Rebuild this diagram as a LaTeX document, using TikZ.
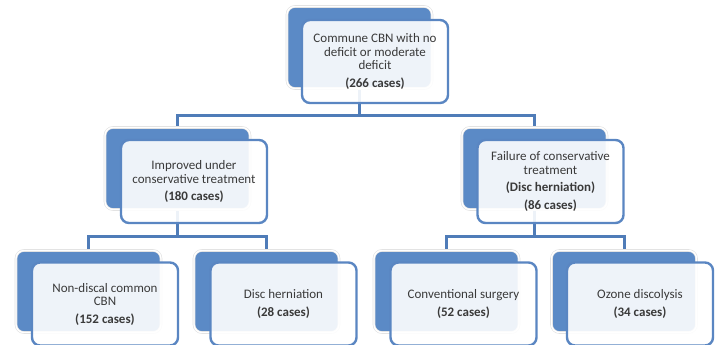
\documentclass[tikz,border=0pt]{standalone}
\usepackage{fontspec}
\setmainfont{Carlito}
\usetikzlibrary{backgrounds}
\definecolor{backblue}{HTML}{5B8AC6}
\definecolor{lineblue}{HTML}{5A86C2}
\definecolor{linkblue}{HTML}{4F7CB8}
\definecolor{txt}{HTML}{3A3A3A}
\begin{document}
\begin{tikzpicture}[x=1pt,y=-1pt,
  back node/.style={rectangle,rounded corners=8pt,fill=backblue,draw=black!12,line width=0.6pt,
    double=white,double distance=1.4pt,minimum width=145pt,minimum height=82pt,inner sep=0pt},
  front node/.style={rectangle,rounded corners=8pt,fill=white,fill opacity=0.9,text opacity=1,
    draw=lineblue,line width=2.4pt,minimum width=146pt,minimum height=83pt,inner sep=2pt,
    align=center,text=txt,font=\fontsize{13}{13.5}\selectfont},
  link/.style={draw=linkblue,line width=3pt}]
  \useasboundingbox (0,0) rectangle (718,345);
%back boxes
  \node[back node] (1b) at (359.5,47.5) {};
  \node[back node] (2b) at (177.5,168.5) {};
  \node[back node] (3b) at (534.5,168.5) {};
  \node[back node] (4b) at (88.5,291.5) {};
  \node[back node] (5b) at (266.5,291.5) {};
  \node[back node] (6b) at (446.5,291.5) {};
  \node[back node] (7b) at (624,291.5) {};
%front boxes
  \node[front node] (1) at ([shift={(15.5,14)}]1b.center)
    {Commune CBN with no\\deficit or moderate\\deficit\\[4pt]\textbf{(266 cases)}};
  \node[front node] (2) at ([shift={(16.5,13)}]2b.center)
    {Improved under\\conservative treatment\\[4pt]\textbf{(180 cases)}};
  \node[front node] (3) at ([shift={(16,13)}]3b.center)
    {Failure of conservative\\treatment\\[4pt]\textbf{(Disc herniation)}\\[4pt]\textbf{(86 cases)}};
  \node[front node] (4) at ([shift={(16.5,12.5)}]4b.center)
    {Non-discal common\\CBN\\[4pt]\textbf{(152 cases)}};
  \node[front node] (5) at ([shift={(17,12.5)}]5b.center)
    {Disc herniation\\[4pt]\textbf{(28 cases)}};
  \node[front node] (6) at ([shift={(17,12.5)}]6b.center)
    {Conventional surgery\\[4pt]\textbf{(52 cases)}};
  \node[front node] (7) at ([shift={(16,12.5)}]7b.center)
    {Ozone discolysis\\[4pt]\textbf{(34 cases)}};
%links
  \coordinate (j1) at (359.5,115);
  \coordinate (j2) at (177.5,236);
  \coordinate (j3) at (534.5,236);
  \begin{scope}[on background layer]
  \path[link] (1b) -- (j1) -| (2b) (j1) -| (3b)
    (2b) -- (j2) -| (4b) (j2) -| (5b)
    (3b) -- (j3) -| (6b) (j3) -| (7b);
  \end{scope}
\end{tikzpicture}
\end{document}
